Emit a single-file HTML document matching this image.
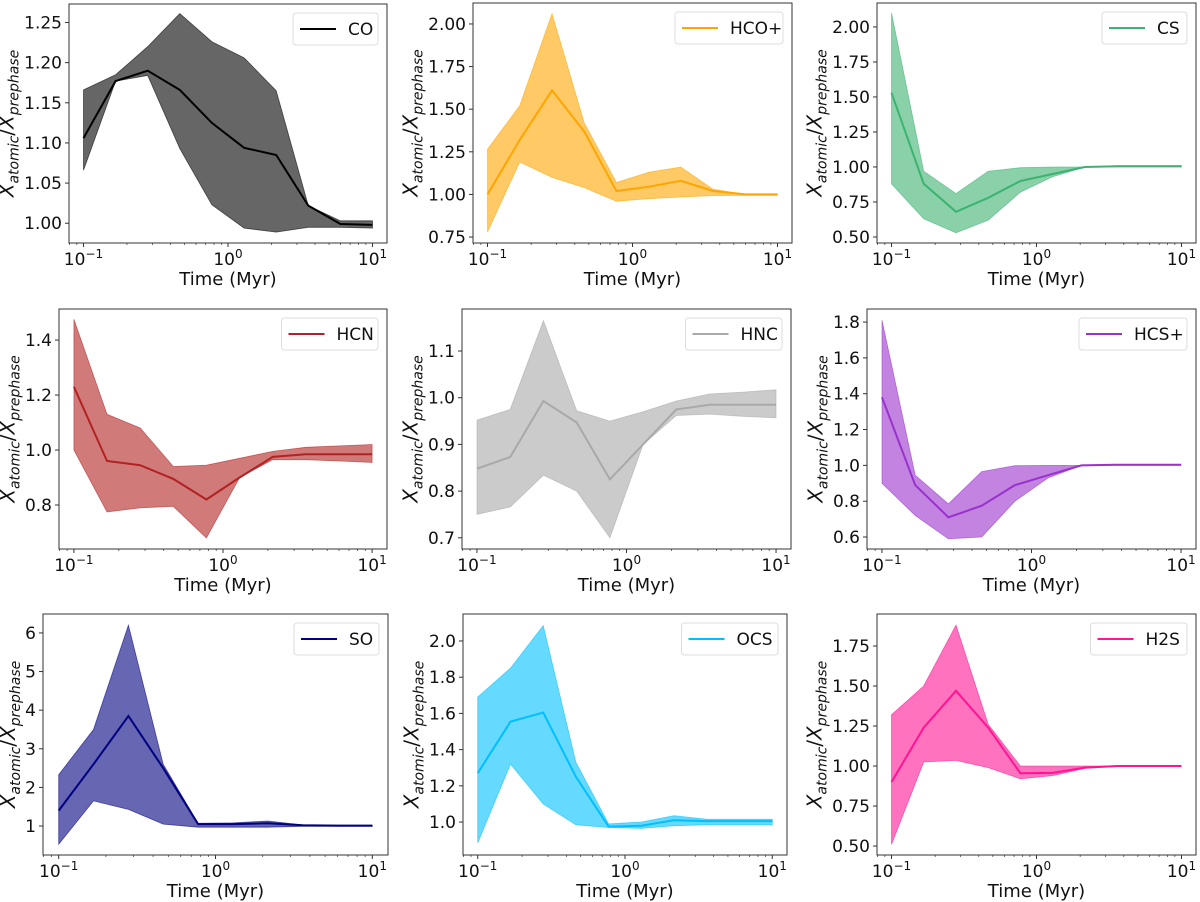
<!DOCTYPE html>
<html><head><meta charset="utf-8"><style>
html,body{margin:0;padding:0;background:#fff;}
svg{display:block;font-family:"DejaVu Sans","Liberation Sans",sans-serif;}
</style></head><body>
<svg id="fig" width="1200" height="902" viewBox="0 0 1200 902"></svg>
<script>
const times=[0.1,0.1668,0.2783,0.4642,0.7743,1.2915,2.1544,3.5938,5.9948,10];
const names=["CO","HCO+","CS","HCN","HNC","HCS+","SO","OCS","H2S"];
const colors=["#000000","#ffa500","#3cb371","#b22222","#a9a9a9","#9932cc","#000080","#00bfff","#ff1493"];
const meanCO=[1.106,1.177,1.19,1.166,1.125,1.094,1.085,1.022,0.999,0.998];
const upCO=[1.166,1.185,1.22,1.261,1.226,1.206,1.165,1.022,1.003,1.003];
const loCO=[1.066,1.177,1.184,1.093,1.023,0.994,0.989,0.995,0.995,0.994];
const meanHCOp=[1.0,1.32,1.61,1.37,1.02,1.045,1.08,1.02,1.0,1.0];
const upHCOp=[1.265,1.52,2.06,1.42,1.07,1.13,1.16,1.03,1.0,1.0];
const loHCOp=[0.78,1.19,1.1,1.04,0.96,0.975,0.985,0.993,0.995,0.995];
const meanCS=[1.53,0.88,0.68,0.78,0.9,0.95,1.0,1.005,1.005,1.005];
const upCS=[2.1,0.97,0.81,0.97,0.995,1.0,1.0,1.01,1.01,1.01];
const loCS=[0.88,0.63,0.53,0.62,0.82,0.93,1.0,1.0,1.0,1.0];
const meanHCN=[1.23,0.96,0.945,0.895,0.82,0.9,0.975,0.985,0.985,0.985];
const upHCN=[1.475,1.13,1.08,0.94,0.945,0.97,0.995,1.01,1.015,1.02];
const loHCN=[1.0,0.775,0.79,0.795,0.68,0.9,0.965,0.965,0.96,0.955];
const meanHNC=[0.848,0.873,0.993,0.947,0.825,0.9,0.975,0.985,0.985,0.985];
const upHNC=[0.952,0.975,1.165,0.972,0.95,0.97,0.993,1.008,1.012,1.017];
const loHNC=[0.75,0.766,0.834,0.8,0.70,0.9,0.962,0.965,0.96,0.957];
const meanHCSp=[1.38,0.89,0.71,0.775,0.89,0.945,1.0,1.003,1.003,1.003];
const upHCSp=[1.81,0.945,0.785,0.965,0.998,1.0,1.0,1.005,1.005,1.005];
const loHCSp=[0.9,0.72,0.59,0.6,0.8,0.93,1.0,1.0,1.0,1.0];
const meanSO=[1.4,2.6,3.85,2.5,1.05,1.05,1.07,1.02,1.01,1.01];
const upSO=[2.33,3.5,6.2,2.6,1.07,1.08,1.13,1.03,1.02,1.02];
const loSO=[0.53,1.65,1.43,1.05,0.97,0.97,0.97,0.99,0.99,0.99];
const meanOCS=[1.27,1.555,1.605,1.25,0.975,0.98,1.01,1.005,1.005,1.005];
const upOCS=[1.69,1.85,2.085,1.33,0.99,1.0,1.035,1.015,1.015,1.015];
const loOCS=[0.885,1.32,1.1,0.985,0.97,0.965,0.98,0.985,0.985,0.985];
const meanH2S=[0.90,1.24,1.47,1.24,0.955,0.957,0.99,1.0,1.0,1.0];
const upH2S=[1.32,1.5,1.88,1.26,1.0,1.0,1.0,1.0,1.0,1.0];
const loH2S=[0.51,1.025,1.035,0.99,0.92,0.94,0.985,0.997,1.0,1.0];
const yTicksCO=[1.00,1.05,1.10,1.15,1.20,1.25];
const yTicksHCOp=[0.75,1.00,1.25,1.50,1.75,2.00];
const yTicksCS=[0.50,0.75,1.00,1.25,1.50,1.75,2.00];
const yTicksHCN=[0.8,1.0,1.2,1.4];
const yTicksHNC=[0.7,0.8,0.9,1.0,1.1];
const yTicksHCSp=[0.6,0.8,1.0,1.2,1.4,1.6,1.8];
const yTicksSO=[1,2,3,4,5,6];
const yTicksOCS=[1.0,1.2,1.4,1.6,1.8,2.0];
const yTicksH2S=[0.50,0.75,1.00,1.25,1.50,1.75];
const yDec=[2,2,2,1,1,1,0,1,2];

const means=[meanCO,meanHCOp,meanCS,meanHCN,meanHNC,meanHCSp,meanSO,meanOCS,meanH2S];
const ups=[upCO,upHCOp,upCS,upHCN,upHNC,upHCSp,upSO,upOCS,upH2S];
const los=[loCO,loHCOp,loCS,loHCN,loHNC,loHCSp,loSO,loOCS,loH2S];
const yticks=[yTicksCO,yTicksHCOp,yTicksCS,yTicksHCN,yTicksHNC,yTicksHCSp,yTicksSO,yTicksOCS,yTicksH2S];
const boxes=[[69,4,387,243],[473,3,792,243],[877,3,1196,243],[59,309,387,549],[462,309,791,549],[867,309,1196,549],[43,614,388,855],[463,614,787,855],[877,614,1196,855]];
const ylims=[[0.9754,1.273],[0.715,2.123],[0.457,2.171],[0.64,1.513],[0.676,1.19],[0.533,1.873],[0.25,6.49],[0.818,2.149],[0.444,1.95]];

const NS="http://www.w3.org/2000/svg";
const fig=document.getElementById('fig');
function mk(tag,attrs,parent){const e=document.createElementNS(NS,tag);for(const k in attrs)e.setAttribute(k,attrs[k]);(parent||fig).appendChild(e);return e;}

for(let p=0;p<9;p++){
  const [L,T,R,B]=boxes[p];const [y0,y1]=ylims[p];
  const lx0=-1.1,lx1=1.1;
  const X=v=>L+(Math.log10(v)-lx0)/(lx1-lx0)*(R-L);
  const Y=v=>B-(v-y0)/(y1-y0)*(B-T);
  const g=mk('g',{});
  
  
  const cid='clip'+p;
  const cp=mk('clipPath',{id:cid},g);mk('rect',{x:L,y:T,width:R-L,height:B-T},cp);
  let d='M'+times.map((t,i)=>X(t).toFixed(1)+','+Y(ups[p][i]).toFixed(1)).join('L');
  for(let i=times.length-1;i>=0;i--)d+='L'+X(times[i]).toFixed(1)+','+Y(los[p][i]).toFixed(1);
  d+='Z';
  const band=mk('path',{d:d,fill:colors[p],'fill-opacity':0.6,stroke:colors[p],'stroke-opacity':0.6,'stroke-width':0.8,'clip-path':'url(#'+cid+')'},g);
  
  
  const line=mk('polyline',{points:times.map((t,i)=>X(t).toFixed(1)+','+Y(means[p][i]).toFixed(1)).join(' '),fill:'none',stroke:colors[p],'stroke-width':2,'clip-path':'url(#'+cid+')'},g);
  
  
  mk('rect',{x:L,y:T,width:R-L,height:B-T,fill:'none',stroke:'#333','stroke-width':1},g);
  for(let e=-2;e<=1;e++){for(let m=1;m<10;m++){const v=m*Math.pow(10,e);const lv=Math.log10(v);if(lv<lx0||lv>lx1)continue;const x=X(v);
    mk('line',{x1:x,x2:x,y1:B,y2:B+(m===1?4:2),stroke:'#333','stroke-width':m===1?1:0.7},g);}}
  [-1,0,1].forEach(e=>{const t=mk('text',{x:X(Math.pow(10,e)),y:B+22,'text-anchor':'middle','font-size':17,fill:'#111'},g);
    
    
    t.appendChild(document.createTextNode('10'));
    const s=mk('tspan',{dy:-7,'font-size':12},t);s.textContent=e<0?'\u22121':String(e);});
  const xl=mk('text',{x:(L+R)/2,y:B+42,'text-anchor':'middle','font-size':18,fill:'#111'},g);
  
  
  xl.textContent='Time (Myr)';
  let maxw=0;
  yticks[p].forEach(v=>{const y=Y(v);mk('line',{x1:L-4,x2:L,y1:y,y2:y,stroke:'#333','stroke-width':1},g);
    const s=v.toFixed(yDec[p]);maxw=Math.max(maxw,s.length===1?10:(s.length-1)*10.8+5);
    const t=mk('text',{x:L-7,y:y+6,'text-anchor':'end','font-size':17,fill:'#111'},g);
    
    
    t.textContent=s;});
  const cx=L-7-maxw-11,cy=(T+B)/2;
  const yl=mk('text',{x:cx,y:cy,'text-anchor':'middle','font-size':20,fill:'#111',transform:'rotate(-90 '+cx+' '+cy+')'},g);
  
  
  yl.innerHTML='<tspan font-style="italic">X</tspan><tspan font-style="italic" font-size="14" dy="5">atomic</tspan><tspan dy="-5">/</tspan><tspan font-style="italic">X</tspan><tspan font-style="italic" font-size="14" dy="5">prephase</tspan>';
  const lw=names[p].length*11.5+62, lh=32;
  const lg=mk('g',{},g);
  
  
  mk('rect',{x:R-9-lw,y:T+9,width:lw,height:lh,rx:3,fill:'#fff','fill-opacity':0.8,stroke:'#ddd','stroke-width':1},lg);
  mk('line',{x1:R-9-lw+7,x2:R-9-lw+43,y1:T+25,y2:T+25,stroke:colors[p],'stroke-width':2},lg);
  const lt=mk('text',{x:R-9-lw+55,y:T+31,'font-size':17,fill:'#111'},lg);
  
  
  lt.textContent=names[p];
}
</script>
</body></html>
